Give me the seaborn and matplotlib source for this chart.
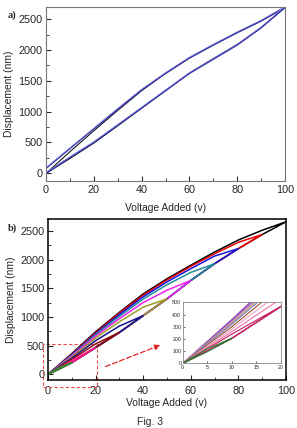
import matplotlib
matplotlib.use("Agg")
import matplotlib.pyplot as plt
import seaborn as sns
from matplotlib.patches import Rectangle
from matplotlib.ticker import MultipleLocator

# ---- datos ----
volts = [0, 10, 20, 30, 40, 50, 60, 70, 80, 90, 100]

# panel a: medido (azul) y modelo (negro)
meas_rise = [0, 256, 500, 780, 1060, 1340, 1620, 1850, 2080, 2360, 2690]
meas_fall = [80, 400, 720, 1040, 1350, 1620, 1870, 2080, 2280, 2470, 2690]
model_rise = [0, 240, 490, 770, 1055, 1340, 1625, 1860, 2090, 2360, 2690]
model_fall = [0, 350, 690, 1020, 1340, 1620, 1870, 2080, 2285, 2470, 2690]

# panel b: curva de subida común y bajadas de cada ciclo
rise = [0, 205, 467, 730, 1022, 1314, 1635, 1927, 2190, 2435, 2657]
fall_100 = [0, 360, 740, 1080, 1400, 1665, 1900, 2130, 2340, 2510, 2657]
fall_90 = [0, 350, 725, 1065, 1380, 1645, 1880, 2100, 2300, 2435]
fall_80 = [0, 340, 705, 1040, 1350, 1610, 1840, 2060, 2190]
fall_70 = [0, 330, 690, 1010, 1310, 1560, 1775, 1927]
fall_60 = [0, 320, 665, 970, 1250, 1465, 1635]
fall_50 = [0, 300, 630, 915, 1170, 1314]
fall_40 = [0, 280, 585, 840, 1022]
fall_30 = [0, 260, 530, 730]
fall_20 = [0, 240, 467]
green_volts = [0, 5, 10]
green_rise = [0, 95, 205]
green_fall = [0, 120, 205]

falls = [fall_100, fall_90, fall_80, fall_70, fall_60, fall_50, fall_40, fall_30, fall_20]
loop_colors = ["#000000", "#e80000", "#1414e0", "#1f8c9c", "#f020f0",
               "#9c9c24", "#14148c", "#8c0a0a", "#ff1a8c", "#2e8b2e"]
inset_colors = ["#9a4fc0", "#8a3fb0", "#b58ad0", "#d2a050", "#6b7bd0",
                "#a0522d", "#f0a0c0", "#f070a8", "#c8185c", "#2e7d32"]


def draw_loop(ax, v, up, down, color, lw):
    x = list(v) + list(v)[::-1]
    y = list(up[:len(v)]) + list(down)[::-1]
    sns.lineplot(x=x, y=y, sort=False, estimator=None, color=color, lw=lw, ax=ax)


sns.set_style("ticks")
plt.rcParams["font.family"] = ["Liberation Sans", "DejaVu Sans"]
plt.rcParams["xtick.direction"] = "in"
plt.rcParams["ytick.direction"] = "in"

fig = plt.figure(figsize=(2.97, 4.28), dpi=100)
ax_a = fig.add_axes([0.155, 0.577, 0.805, 0.4065])
ax_b = fig.add_axes([0.1616, 0.1121, 0.801, 0.376])

# panel a
draw_loop(ax_a, volts, model_rise, model_fall, "black", 0.7)
draw_loop(ax_a, volts, meas_rise, meas_fall, "#3434a8", 1.0)
draw_loop(ax_a, volts, [v + 15 for v in meas_rise], [v + 15 for v in meas_fall], "#7a7ae0", 0.5)
ax_a.set_xlim(0, 100)
ax_a.set_ylim(-125, 2695)

# panel b
for f, c in zip(falls, loop_colors):
    draw_loop(ax_b, volts[:len(f)], rise, f, c, 1.1)
draw_loop(ax_b, green_volts, green_rise, green_fall, loop_colors[-1], 1.1)
ax_b.set_xlim(0, 100)
ax_b.set_ylim(-100, 2705)

for ax, spine_col in [(ax_a, "#777777"), (ax_b, "black")]:
    ax.xaxis.set_major_locator(MultipleLocator(20))
    ax.xaxis.set_minor_locator(MultipleLocator(10))
    ax.yaxis.set_major_locator(MultipleLocator(500))
    ax.yaxis.set_minor_locator(MultipleLocator(250))
    ax.tick_params(which="major", length=3.5, width=0.8, labelsize=7.8, pad=2.5)
    ax.tick_params(which="minor", length=2, width=0.6)
    for s in ax.spines.values():
        s.set_color(spine_col)
        s.set_linewidth(0.8 if ax is ax_a else 1.1)
    ax.set_xlabel("Voltage Added (v)", fontsize=7.4, labelpad=6)
    ax.set_ylabel("Displacement (nm)", fontsize=7.4, labelpad=3)
ax_b.tick_params(axis="x", which="major", pad=4)
ax_b.xaxis.labelpad = 2

# recuadro y flecha roja
ax_b.add_patch(Rectangle((-2.2, -220), 22.9, 750, fill=False, ec="#e84a4a",
                         ls=(0, (3, 2)), lw=0.8, clip_on=False))
ax_b.annotate("", xy=(48.3, 526), xytext=(23.1, 117),
              arrowprops=dict(arrowstyle="-|>", color="#e82020", lw=0.9,
                              ls=(0, (4, 2)), mutation_scale=8))

# inset
ax_in = fig.add_axes([0.615, 0.151, 0.331, 0.1425])
for f, c in zip(falls, inset_colors):
    draw_loop(ax_in, volts[:len(f)], rise, f, c, 0.8)
draw_loop(ax_in, green_volts, green_rise, green_fall, inset_colors[-1], 0.8)
ax_in.set_xlim(0, 20)
ax_in.set_ylim(0, 500)
ax_in.xaxis.set_major_locator(MultipleLocator(5))
ax_in.yaxis.set_major_locator(MultipleLocator(100))
ax_in.tick_params(length=1.5, width=0.5, labelsize=3.8, pad=1)
for s in ax_in.spines.values():
    s.set_color("#888888")
    s.set_linewidth(0.6)

fig.text(0.027, 0.965, "a)", fontsize=7.5, fontweight="bold", family="Liberation Serif", va="center")
fig.text(0.027, 0.466, "b)", fontsize=7.5, fontweight="bold", family="Liberation Serif", va="center")
fig.text(0.505, 0.014, "Fig. 3", fontsize=7.5, ha="center", va="center")

fig.savefig("out.png", dpi=100)
